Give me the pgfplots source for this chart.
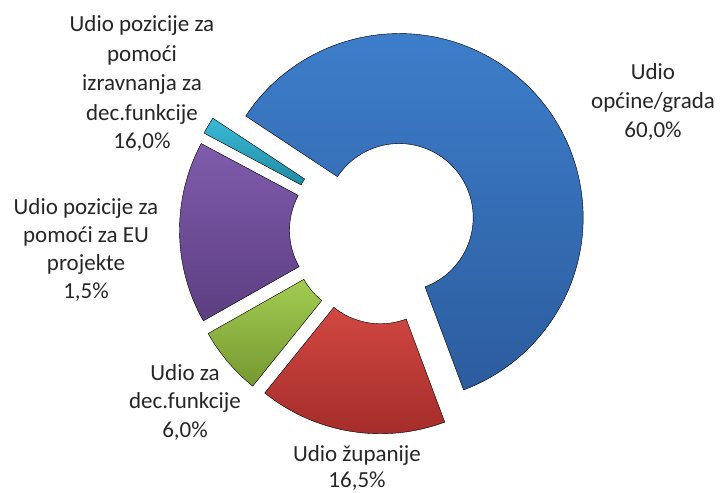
\documentclass[border=0pt]{standalone}
\usepackage{pgfplots}
\usepackage{pgfplotstable}
\usepackage{fontspec}
\setmainfont{Carlito}
\pgfplotsset{compat=1.18}

% slice colours: top / bottom of the gradient
\definecolor{s0T}{RGB}{62,128,205}
\definecolor{s0B}{RGB}{44,92,158}
\definecolor{s1T}{RGB}{210,72,66}
\definecolor{s1B}{RGB}{160,42,40}
\definecolor{s2T}{RGB}{162,204,82}
\definecolor{s2B}{RGB}{118,152,48}
\definecolor{s3T}{RGB}{128,92,172}
\definecolor{s3B}{RGB}{92,62,130}
\definecolor{s4T}{RGB}{58,186,214}
\definecolor{s4B}{RGB}{34,138,164}

% shares in percent, clockwise from the first slice
\pgfplotstableread{
pct idx
60.0 0
16.5 1
6.0 2
16.0 3
1.5 4
}\slices
\pgfplotstablecreatecol[create col/expr accum={\pgfmathaccuma+\thisrow{pct}}{0}]{cum}{\slices}
\pgfplotstablecreatecol[create col/expr={146.5-3.6*(\thisrow{cum}-\thisrow{pct})}]{sa}{\slices}
\pgfplotstablecreatecol[create col/expr={146.5-3.6*\thisrow{cum}}]{ea}{\slices}
\pgfplotstablecreatecol[create col/expr={(\thisrow{sa}+\thisrow{ea})/2}]{ma}{\slices}

\newcommand\lbl[3]{\node[anchor=base, inner sep=0pt, text=black!85,
  font=\fontsize{23bp}{29bp}\selectfont] at (axis cs:#1,#2) {#3};}

\begin{document}
\begin{tikzpicture}
\begin{axis}[
    scale only axis,
    width=721bp, height=493bp,
    xmin=0, xmax=721, ymin=0, ymax=493,
    y dir=reverse,
    enlargelimits=false,
    hide axis,
    clip=false,
]
    \addplot[
        scatter, only marks, mark=*, mark size=0pt,
        mark options={draw=none, fill=none},
        visualization depends on={\thisrow{sa} \as \sa},
        visualization depends on={\thisrow{ea} \as \ea},
        visualization depends on={\thisrow{idx} \as \idx},
        scatter/@pre marker code/.code={%
            \pgfmathtruncatemacro\k{\idx}%
            \fill[black, opacity=0.10, shift={(1.5bp,-2.5bp)}]
                (\sa:184bp) arc[start angle=\sa, end angle=\ea, radius=184bp]
                -- (\ea:74bp) arc[start angle=\ea, end angle=\sa, radius=74bp] -- cycle;
            \shade[top color=s\k T, bottom color=s\k B]
                (\sa:184bp) arc[start angle=\sa, end angle=\ea, radius=184bp]
                -- (\ea:74bp) arc[start angle=\ea, end angle=\sa, radius=74bp] -- cycle;
        },
        scatter/@post marker code/.code={},
    ] table[x expr={383.5+20*cos(\thisrow{ma})},
            y expr={230-20*sin(\thisrow{ma})}] {\slices};

    \lbl{653}{80}{Udio}
    \lbl{653}{108}{općine/grada}
    \lbl{653}{137}{60,0\%}

    \lbl{142}{32}{Udio pozicije za}
    \lbl{142}{62}{pomoći}
    \lbl{142}{91}{izravnanja za}
    \lbl{142}{120}{dec.funkcije}
    \lbl{142}{148}{16,0\%}

    \lbl{86}{214}{Udio pozicije za}
    \lbl{86}{242}{pomoći za EU}
    \lbl{86}{270}{projekte}
    \lbl{86}{298}{1,5\%}

    \lbl{185}{380}{Udio za}
    \lbl{185}{408}{dec.funkcije}
    \lbl{185}{437}{6,0\%}

    \lbl{357}{461}{Udio županije}
    \lbl{357}{487}{16,5\%}
\end{axis}
\pgfresetboundingbox
\useasboundingbox (current axis.south west) rectangle (current axis.north east);
\end{tikzpicture}
\end{document}
